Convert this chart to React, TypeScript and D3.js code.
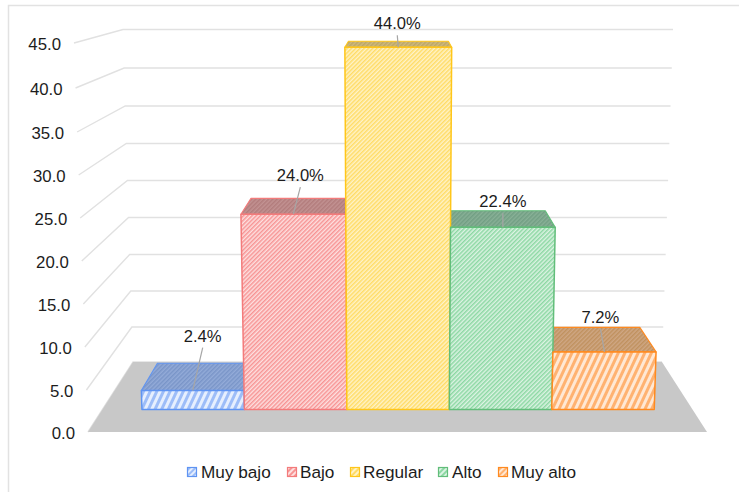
import React from 'react';
import * as d3 from 'd3';

const categories = ['Muy bajo', 'Bajo', 'Regular', 'Alto', 'Muy alto'];
const percentages = [2.4, 24.0, 44.0, 22.4, 7.2];
const tickValues = [0, 5, 10, 15, 20, 25, 30, 35, 40, 45];

const strokeColors = ['#5f94f2', '#f37b7b', '#ffc61a', '#62bd7a', '#ff8a1f'];
const frontBg = ['#e6effe', '#fde0e0', '#fff3c8', '#dcf3e3', '#ffe8d4'];
const frontHatch = ['#9dbdf8', '#f79494', '#ffdc66', '#8cd8a3', '#ffb271'];
const topBg = ['#93abd8', '#c29292', '#ccb87e', '#88b096', '#cfa784'];
const topHatch = ['#7a95c8', '#b27c7c', '#bda766', '#729f84', '#c0915f'];
const hatchSize = [6, 3, 3, 3, 6];

const legendSwatchX = [187, 287, 350, 438, 498];
const legendTextX = [201, 300, 363, 452, 511];
const labelDx = [10, 7, -1, 0, -4];
const labelDy = [-49, -33, -18, -20, -29];

// the wall is a perspective view, so y is read off per tick, not linear
const frontWallY = [432, 390, 347, 304, 261, 218, 175, 132, 88, 43];
const backWallY = [362, 327, 291, 254.5, 217.5, 180.5, 143.5, 106, 68, 29.5];

const font = '"Liberation Sans", Arial, sans-serif';

const frontY = d3.scaleLinear().domain(tickValues).range(frontWallY);
const backY = d3.scaleLinear().domain(tickValues).range(backWallY);
const frontLeft = d3.scaleLinear().domain([0, 45]).range([88, 74]);
const frontRight = d3.scaleLinear().domain([0, 45]).range([707, 721]);
const backLeft = d3.scaleLinear().domain([0, 45]).range([133, 123]);
const backRight = d3.scaleLinear().domain([0, 45]).range([662, 673]);

const band = d3.scaleBand<string>().domain(categories).range([0.067, 0.935]);

const BAR_FRONT = 0.32;
const BAR_BACK = 0.73;

// u: across the floor 0-1, v: value, t: depth 0 (front) to 1 (back wall)
function project(u: number, v: number, t: number): [number, number] {
  const left = d3.interpolateNumber(frontLeft(v), backLeft(v))(t);
  const right = d3.interpolateNumber(frontRight(v), backRight(v))(t);
  const y = d3.interpolateNumber(frontY(v), backY(v))(t);
  return [left + u * (right - left), y];
}

const path = (pts: [number, number][]) => d3.line()(pts) + 'Z';
const fmt = d3.format('.1f');

export default function App() {
  return (
    <svg
      width={739}
      height={492}
      style={{ position: 'absolute', left: 0, top: 0, background: '#fff' }}
    >
      <defs>
        {categories.map((c, i) => (
          <g key={c}>
            <pattern
              id={`front${i}`}
              width={hatchSize[i]}
              height={hatchSize[i]}
              patternUnits="userSpaceOnUse"
              patternTransform={`rotate(${hatchSize[i] > 3 ? 25 : 45})`}
            >
              <rect width={hatchSize[i]} height={hatchSize[i]} fill={frontBg[i]} />
              <rect width={hatchSize[i] / 2} height={hatchSize[i]} fill={frontHatch[i]} />
            </pattern>
            <pattern
              id={`top${i}`}
              width={3}
              height={3}
              patternUnits="userSpaceOnUse"
              patternTransform="rotate(45)"
            >
              <rect width={3} height={3} fill={topBg[i]} />
              <rect width={1.5} height={3} fill={topHatch[i]} />
            </pattern>
            <pattern id={`legend${i}`} width={4} height={4} patternUnits="userSpaceOnUse" patternTransform="rotate(45)">
              <rect width={4} height={4} fill={frontBg[i]} />
              <rect width={2} height={4} fill={frontHatch[i]} />
            </pattern>
          </g>
        ))}
      </defs>

      {/* chart frame, only left and top survive the crop */}
      <path d="M8.5,492V5.5H739" fill="none" stroke="#e2e2e2" strokeWidth={1.5} />

      {tickValues.map(v => {
        const a = project(0, v, 0);
        const b = project(0, v, 1);
        const c = project(1, v, 1);
        return (
          <g key={v}>
            <path d={d3.line()([a, b, c]) as string} fill="none" stroke="#e1e1e1" strokeWidth={1.4} />
            <text
              x={a[0] - 13}
              y={a[1] + 7}
              textAnchor="end"
              fontFamily={font}
              fontSize={16.8}
              fill="#1c1c1c"
            >
              {fmt(v)}
            </text>
          </g>
        );
      })}

      <path
        d={path([project(0, 0, 0), project(1, 0, 0), project(1, 0, 1), project(0, 0, 1)])}
        fill="#c8c8c8"
      />

      {categories.map((c, i) => {
        const u0 = band(c) as number;
        const u1 = u0 + band.bandwidth();
        const v = percentages[i];
        return (
          <path
            key={c}
            d={path([project(u0, v, BAR_FRONT), project(u1, v, BAR_FRONT), project(u1, v, BAR_BACK), project(u0, v, BAR_BACK)])}
            fill={`url(#top${i})`}
            stroke={strokeColors[i]}
            strokeWidth={1.1}
            strokeLinejoin="round"
          />
        );
      })}

      {categories.map((c, i) => {
        const u0 = band(c) as number;
        const u1 = u0 + band.bandwidth();
        const v = percentages[i];
        return (
          <path
            key={c}
            d={path([project(u0, 0, BAR_FRONT), project(u1, 0, BAR_FRONT), project(u1, v, BAR_FRONT), project(u0, v, BAR_FRONT)])}
            fill={`url(#front${i})`}
            stroke={strokeColors[i]}
            strokeWidth={1.5}
            strokeLinejoin="round"
          />
        );
      })}

      {categories.map((c, i) => {
        const v = percentages[i];
        const [x, y] = project((band(c) as number) + band.bandwidth() / 2, v, BAR_FRONT);
        const lx = x + labelDx[i];
        const ly = y + labelDy[i];
        return (
          <g key={c}>
            <line x1={x} y1={y} x2={lx} y2={ly + 6} stroke="#a6a6a6" strokeWidth={1.2} />
            <text x={lx} y={ly} textAnchor="middle" fontFamily={font} fontSize={16.6} fill="#1c1c1c">
              {fmt(v)}%
            </text>
          </g>
        );
      })}

      {categories.map((c, i) => (
        <g key={c}>
          <rect
            x={legendSwatchX[i] + 0.5}
            y={467.5}
            width={9}
            height={9}
            fill={`url(#legend${i})`}
            stroke={strokeColors[i]}
            strokeWidth={1.2}
          />
          <text x={legendTextX[i]} y={478} fontFamily={font} fontSize={17.2} fill="#1c1c1c">
            {c}
          </text>
        </g>
      ))}
    </svg>
  );
}
